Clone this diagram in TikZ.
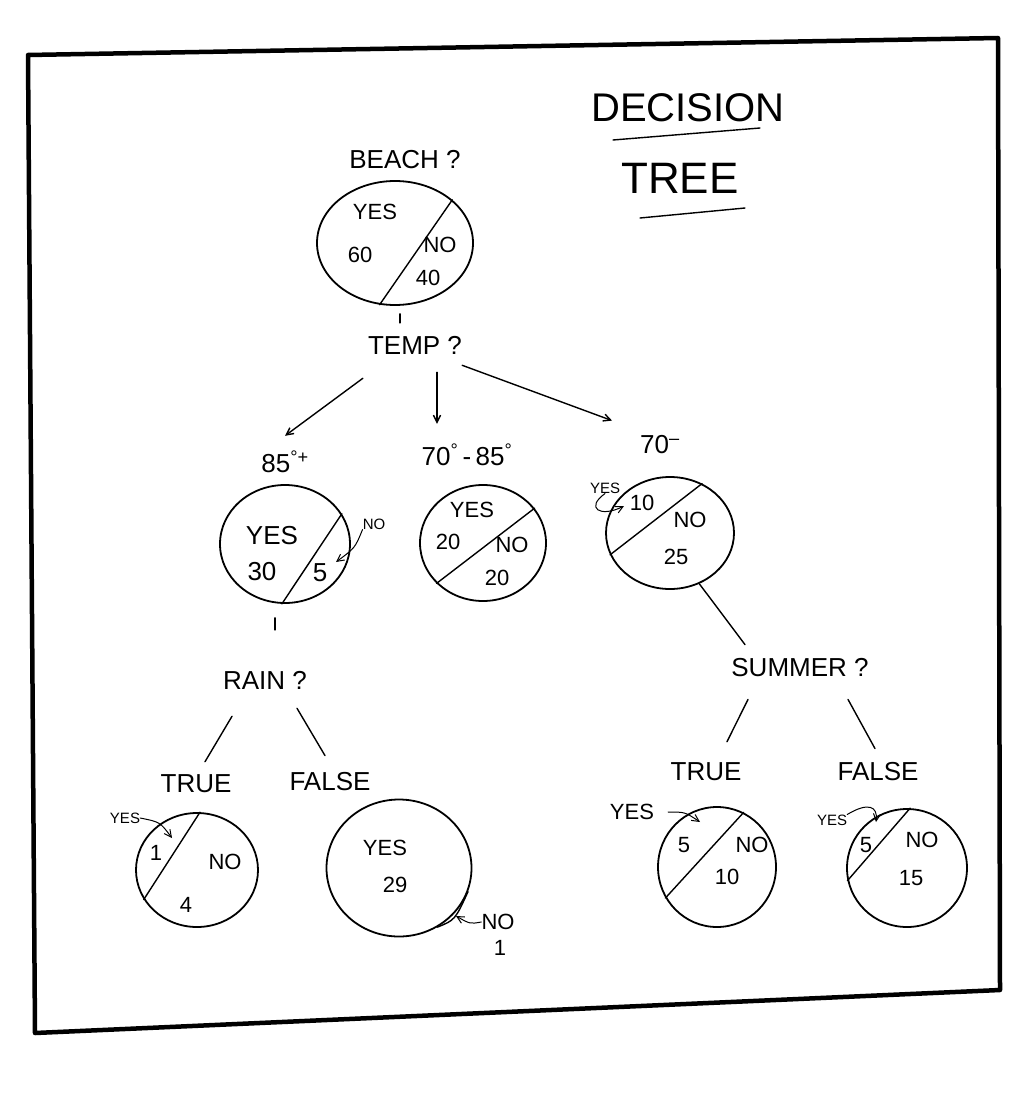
\documentclass[tikz,border=0pt]{standalone}
\usepackage{fontspec}
\setmainfont{Liberation Sans}
\usepackage{tikz}
\usetikzlibrary{positioning,shapes,arrows.meta,calc}
\tikzstyle{pie}=[%
      ellipse, draw=black, line width=1.8pt, fill=none,
      inner sep=0pt
]
\tikzstyle{ask}=[%
      inner sep=0pt, font=\fontsize{26}{30}\selectfont
]
\tikzstyle{big}=[%
      inner sep=0pt, font=\fontsize{22}{26}\selectfont
]
\tikzstyle{sm}=[%
      inner sep=0pt, font=\fontsize{15}{18}\selectfont
]
\tikzstyle{pen}=[line width=1.4pt, line cap=round]
\tikzstyle{hint}=[->, line width=1pt, line cap=round]

\begin{document}
\begin{tikzpicture}[x=1pt, y=-1pt,
    >={Straight Barb[length=2.5mm,width=2.5mm]}
  ]
    \useasboundingbox (0,0) rectangle (1022,1094);
    \draw[line width=4.5pt, line join=round] (28,55) -- (998,38) -- (1000,990) -- (35,1033) -- cycle;

    % title
    \node[inner sep=0pt, font=\fontsize{40}{46}\selectfont] (T1) at (688,108) {DECISION};
    \node[inner sep=0pt, font=\fontsize{44}{50}\selectfont] (T2) at (680,178) {TREE};
    \draw[pen] (613,140) -- (760,128);
    \draw[pen] (640,218) -- (745,208);

    % root
    \node[ask] (beachq) at (405,160) {BEACH ?};
    \node[pie, minimum width=156pt, minimum height=124pt] (beach) at (395,243) {};
    \draw[pen] (beach.-104) -- (beach.37);
    \node[big] at (375,212) {YES};
    \node[big] at (360,255) {60};
    \node[big] at (440,245) {NO};
    \node[big] at (428,278) {40};

    \node[ask] (temp) at (415,345) {TEMP ?};
    \draw[pen] ([xshift=5pt,yshift=-8pt]beach.south) -- ++(0,9);

    \node[ask] (hot)  at (285,462) {85\textsuperscript{°+}};
    \node[ask] (mild) at (467,455) {70\textsuperscript{°}\,-\,85\textsuperscript{°}};
    \node[ask] (cold) at (660,445) {70\textsuperscript{–}};
    \draw[pen, ->] ([xshift=-5pt,yshift=-24pt]temp.south west) -- ([yshift=15pt]hot.north);
    \draw[pen, ->] ([xshift=22pt,yshift=-18pt]temp.south) -- ([xshift=-30pt,yshift=20pt]mild.north);
    \draw[pen, ->] ([yshift=-11pt]temp.south east) -- ([xshift=-28pt,yshift=15pt]cold.north west);

    % 85+
    \node[pie, minimum width=130pt, minimum height=118pt] (hotpie) at (285,544) {};
    \draw[pen] (hotpie.-93) -- (hotpie.28);
    \node[ask] at (272,536) {YES};
    \node[ask] at (262,572) {30};
    \node[ask] at (320,573) {5};
    \node[sm] (hotno) at (374,524) {NO};
    \draw[hint] (hotno.south west) .. controls (355,548) .. (336,562);

    % 70-85
    \node[pie, minimum width=126pt, minimum height=116pt] (mildpie) at (483,543) {};
    \draw[pen] (mildpie.-139) -- (mildpie.34);
    \node[big] at (472,510) {YES};
    \node[big] at (448,542) {20};
    \node[big] at (512,545) {NO};
    \node[big] at (497,578) {20};

    % 70-
    \node[pie, minimum width=128pt, minimum height=112pt] (coldpie) at (670,533) {};
    \draw[pen] (coldpie.-160) -- (coldpie.57);
    \node[sm] (coldyes) at (605,488) {YES};
    \draw[hint] (coldyes.south) .. controls (585,508) and (600,518) .. (624,506);
    \node[big] at (642,503) {10};
    \node[big] at (690,520) {NO};
    \node[big] at (676,557) {25};

    % rain branch
    \node[ask] (rain) at (265,680) {RAIN ?};
    \draw[pen] ([xshift=-10pt,yshift=-14pt]hotpie.south) -- ++(0,12);
    \node[ask] (wet) at (196,784) {TRUE};
    \node[ask] (dry) at (330,782) {FALSE};
    \draw[pen] ([xshift=-33pt,yshift=-27pt]rain.south) -- ([xshift=9pt,yshift=13pt]wet.north);
    \draw[pen] ([xshift=32pt,yshift=-19pt]rain.south) -- ([xshift=-5pt,yshift=17pt]dry.north);

    \node[pie, minimum width=122pt, minimum height=114pt] (wetpie) at (197,870) {};
    \draw[pen] (wetpie.-151) -- (wetpie.87);
    \node[sm] (wetyes) at (125,818) {YES};
    \draw[hint] (wetyes.east) .. controls (160,822) .. (172,838);
    \node[big] at (156,853) {1};
    \node[big] at (225,862) {NO};
    \node[big] at (186,905) {4};

    \node[pie, minimum width=145pt, minimum height=137pt] (drypie) at (399,868) {};
    \draw[pen] (drypie.-57) .. controls (455,920) .. (drypie.-19);
    \node[big] at (385,848) {YES};
    \node[big] at (395,885) {29};
    \node[big] (dryno) at (498,922) {NO};
    \node[big] at (500,948) {1};
    \draw[hint] (dryno.west) .. controls (470,924) .. (456,916);

    % summer branch
    \node[ask] (summer) at (800,668) {SUMMER ?};
    \draw[pen] (coldpie.-60) -- ([xshift=-55pt,yshift=14pt]summer.north);
    \node[ask] (sunny) at (706,772) {TRUE};
    \node[ask] (rainy) at (878,772) {FALSE};
    \draw[pen] ([xshift=-52pt,yshift=-22pt]summer.south) -- ([xshift=21pt,yshift=21pt]sunny.north);
    \draw[pen] ([xshift=48pt,yshift=-22pt]summer.south) -- ([xshift=-3pt,yshift=14pt]rainy.north);

    \node[pie, minimum width=118pt, minimum height=120pt] (sunpie) at (717,867) {};
    \draw[pen] (sunpie.-149) -- (sunpie.64);
    \node[big] (sunyes) at (632,812) {YES};
    \draw[hint] ([xshift=14pt]sunyes.east) .. controls (685,812) .. (700,822);
    \node[big] at (684,845) {5};
    \node[big] at (752,845) {NO};
    \node[big] at (727,877) {10};

    \node[pie, minimum width=120pt, minimum height=118pt] (rainypie) at (907,868) {};
    \draw[pen] (rainypie.-168) -- (rainypie.87);
    \node[sm] (rainyyes) at (832,820) {YES};
    \draw[hint] (rainyyes.north east) .. controls (868,802) and (878,806) .. (876,822);
    \node[big] at (866,845) {5};
    \node[big] at (922,840) {NO};
    \node[big] at (911,878) {15};

  \end{tikzpicture}
\end{document}
